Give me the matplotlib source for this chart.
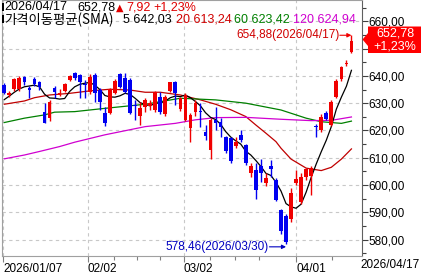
import matplotlib
matplotlib.use('Agg')
import matplotlib.pyplot as plt
from matplotlib.ticker import FixedLocator, FuncFormatter, MultipleLocator
from matplotlib.patches import Polygon, Rectangle
from matplotlib import font_manager as fm

# ---------------- data ----------------
opens = [636.7, 633.0, 635.1, 635.1, 639.5, 635.7, 638.9, 637.7, 626.9, 624.7,
         635.5, 633.0, 634.6, 638.5, 641.0, 640.3, 637.0, 634.0, 640.3, 634.8,
         626.3, 626.3, 633.6, 640.6, 639.4, 638.5, 629.5, 625.3, 628.7, 628.8,
         627.5, 632.4, 625.9, 634.5, 637.9, 627.8, 623.9, 620.8, 626.7, 627.1,
         619.6, 612.9, 623.9, 623.2, 617.5, 617.1, 614.3, 618.4, 614.7, 604.3,
         605.5, 606.8, 600.7, 607.0, 601.9, 590.9, 588.7, 587.5, 600.7, 593.9,
         602.9, 603.3, 621.6, 620.0, 626.3, 622.0, 632.2, 638.8, 644.4, 648.9]
highs = [637.5, 634.5, 639.4, 640.1, 640.1, 636.3, 639.5, 638.3, 630.0, 631.2,
         636.3, 635.1, 637.5, 640.5, 641.6, 640.8, 638.5, 640.6, 640.9, 635.5,
         628.7, 635.7, 638.8, 641.2, 640.9, 639.4, 631.2, 630.6, 631.8, 631.2,
         634.5, 634.0, 633.0, 637.9, 638.3, 632.4, 633.6, 626.3, 631.2, 630.0,
         622.0, 624.5, 628.5, 624.5, 618.0, 617.7, 617.7, 620.2, 615.2, 608.0,
         608.2, 609.5, 604.3, 609.2, 602.5, 591.4, 589.3, 598.8, 605.5, 604.5,
         606.2, 606.8, 622.4, 626.0, 627.0, 631.2, 638.8, 643.7, 645.7, 654.88]
lows = [633.2, 632.4, 634.5, 634.5, 636.6, 631.8, 636.3, 634.8, 622.6, 623.4,
        631.8, 632.6, 634.0, 638.0, 638.5, 631.8, 632.0, 633.4, 630.6, 627.5,
        621.8, 625.9, 633.2, 635.5, 633.6, 625.9, 623.9, 622.0, 626.9, 627.5,
        626.9, 626.0, 625.3, 634.0, 629.4, 627.2, 623.4, 615.9, 625.3, 621.4,
        616.4, 609.5, 620.2, 617.5, 611.8, 608.2, 613.5, 615.9, 607.5, 602.9,
        594.8, 601.0, 599.6, 603.1, 594.0, 582.0, 578.46, 586.6, 600.0, 593.2,
        602.0, 596.4, 617.5, 619.6, 623.9, 621.5, 631.8, 638.2, 643.5, 648.5]
closes = [633.9, 633.9, 638.9, 639.4, 637.9, 635.0, 636.9, 635.8, 622.9, 630.6,
          634.2, 633.9, 637.0, 640.0, 639.1, 637.9, 636.5, 639.7, 633.6, 630.6,
          622.6, 635.1, 638.1, 636.1, 634.2, 626.3, 628.9, 628.1, 631.2, 630.0,
          634.0, 626.9, 632.4, 637.7, 633.6, 631.8, 633.0, 625.7, 630.0, 626.6,
          618.1, 623.8, 622.6, 621.4, 612.3, 608.8, 615.9, 616.5, 608.2, 606.8,
          598.2, 604.3, 602.5, 605.8, 594.6, 583.0, 579.0, 597.2, 602.1, 603.1,
          605.8, 606.2, 621.1, 624.8, 624.1, 630.6, 638.3, 643.2, 644.86, 652.78]

ma5 = [631.3, 632.6, 634.0, 635.2, 636.0, 636.3, 636.6, 636.0, 633.3, 631.9,
       631.8, 631.5, 631.7, 634.3, 636.0, 636.9, 637.3, 637.6, 636.6, 635.0,
       632.8, 632.3, 632.2, 632.7, 633.6, 633.2, 631.8, 630.2, 629.5, 629.0,
       630.0, 630.0, 630.8, 632.0, 632.6, 632.4, 633.0, 632.0, 630.6, 629.0,
       626.5, 624.8, 624.0, 622.3, 619.6, 617.6, 616.2, 615.0, 612.4, 611.0,
       609.0, 606.8, 604.3, 603.5, 601.0, 597.8, 593.2, 592.0, 591.5, 593.0,
       597.4, 602.8, 607.7, 612.2, 616.4, 621.4, 627.8, 632.2, 636.2, 642.03]

ma20_idx = [0, 4, 6, 9, 13, 17, 21, 25, 28, 31, 35, 39, 42, 45, 48, 50, 52, 54, 55, 57, 60, 63, 65, 67, 69]
ma20_val = [629.6, 630.8, 632.0, 633.0, 633.6, 634.5, 635.1, 634.8, 634.0, 634.0, 633.0, 631.2,
            629.6, 627.6, 625.1, 622.0, 619.0, 615.9, 613.5, 609.5, 606.2, 605.3, 606.5, 609.5, 613.24]
ma60_idx = [0, 4, 8, 10, 14, 20, 28, 35, 42, 48, 55, 60, 63, 67, 69]
ma60_val = [622.9, 624.5, 625.7, 626.7, 626.9, 628.1, 629.6, 631.8, 631.2, 630.0, 627.5, 624.5,
            623.2, 622.6, 623.42]
ma120_idx = [0, 4, 7, 11, 14, 20, 28, 34, 38, 42, 48, 55, 61, 65, 69]
ma120_val = [609.6, 611.0, 612.3, 614.1, 615.7, 618.4, 621.4, 622.6, 623.9, 624.7, 624.8, 624.1,
             623.6, 623.7, 624.94]

last_date = "2026/04/17"
low_date = "2026/03/30"
xtick_pos = [-0.26, 16.6, 35.7, 58.0]
xtick_labels = ["2026/01/07", "02/02", "03/02", "04/01"]
xminor_pos = [21.9, 26.4, 30.9, 40.9, 45.8, 50.6, 65.2]
ma_periods = [5, 20, 60, 120]
ma_title = "가격이동평균(SMA)"

# ---------------- style ----------------
avail = {f.name for f in fm.fontManager.ttflist}
NUMF = 'Liberation Sans Narrow' if 'Liberation Sans Narrow' in avail else 'Liberation Sans'
FS = 10 if NUMF == 'Liberation Sans Narrow' else 8.5
FS2 = FS + 0.5
KOR = ['Noto Sans CJK KR', NUMF]

RED = '#F00000'
BLUE = '#0000F0'
C_MA = ['#000000', '#C00000', '#008000', '#D000D0']
C_TXT = ['#000000', '#D00000', '#008000', '#D000D0']

W, H = 421, 275
fig = plt.figure(figsize=(W / 100, H / 100), dpi=100)
fig.patch.set_facecolor('white')


def fx(px):
    return px / W


def fy(py):
    return 1 - py / H


ax = fig.add_axes([2 / W, 19 / H, 360 / W, 256 / H])
ax.set_xlim(-0.45, 71.1)
ax.set_ylim(574.0, 667.8)

# grid
ax.yaxis.set_major_locator(MultipleLocator(10))
ax.yaxis.set_minor_locator(MultipleLocator(5))
ax.xaxis.set_major_locator(FixedLocator(xtick_pos))
ax.xaxis.set_minor_locator(FixedLocator(xminor_pos))
ax.grid(True, which='major', color='#C8C8C8', lw=0.8, ls=(0, (3, 3)))
ax.set_axisbelow(True)

# MA lines
n = len(closes)
ax.plot(range(n), ma5, color=C_MA[0], lw=0.9, zorder=3)
ax.plot(ma20_idx, ma20_val, color=C_MA[1], lw=0.9, zorder=2)
ax.plot(ma60_idx, ma60_val, color=C_MA[2], lw=0.9, zorder=2)
ax.plot(ma120_idx, ma120_val, color=C_MA[3], lw=0.9, zorder=2)

# candles
for i in range(n):
    o, h, l, c = opens[i], highs[i], lows[i], closes[i]
    col = RED if c >= o else BLUE
    ax.vlines(i, l, h, color=col, lw=1.0, zorder=4)
    bot = min(o, c)
    hgt = max(abs(c - o), 0.35)
    ax.bar(i, hgt, bottom=bot, width=0.74, color=col, edgecolor=col, lw=0, zorder=5)

# axes styling
for s in ['left', 'top', 'bottom']:
    ax.spines[s].set_color('#A0A0A0')
ax.spines['right'].set_color('#606060')
ax.yaxis.tick_right()
ax.yaxis.set_major_formatter(FuncFormatter(lambda v, p: ('' if abs(v - 650) < 0.1 else f"{v:.2f}".replace('.', ','))))
ax.tick_params(axis='y', which='major', length=4, width=0.8, color='#404040', pad=0.5,
               labelsize=FS)
ax.tick_params(axis='y', which='minor', length=3, width=0.8, color='#404040')
ax.set_xticklabels(xtick_labels)
ax.tick_params(axis='x', which='major', length=4, width=0.8, color='#808080', pad=1, labelsize=FS)
ax.tick_params(axis='x', which='minor', length=3, width=0.8, color='#808080')
for lab in ax.get_xticklabels():
    lab.set_horizontalalignment('left')
for lab in ax.get_xticklabels() + ax.get_yticklabels():
    lab.set_fontfamily(NUMF)
fig.text(fx(360), fy(265.5), last_date, fontsize=FS, family=NUMF, ha='left', va='center')

# high / low annotations
hi_i = n - 1
hi_v = highs[hi_i]
lo_i = min(range(n), key=lambda k: lows[k])
lo_v = lows[lo_i]
ax.annotate('', xy=(hi_i, hi_v), xytext=(hi_i - 2.3, hi_v),
            arrowprops=dict(arrowstyle='-|>', color=RED, lw=0.8, mutation_scale=6,
                            shrinkA=0, shrinkB=0), zorder=6)
ax.text(hi_i - 2.35, hi_v, f"{hi_v:.2f}".replace('.', ',') + f"({last_date})",
        color='#D00000', fontsize=FS, family=NUMF, ha='right', va='center')
ax.annotate('', xy=(lo_i, lo_v - 1.1), xytext=(lo_i - 3.3, lo_v - 1.1),
            arrowprops=dict(arrowstyle='-|>', color='#0000C0', lw=0.8, mutation_scale=6,
                            shrinkA=0, shrinkB=0), zorder=6)
ax.text(lo_i - 3.35, lo_v - 1.1, f"{lo_v:.2f}".replace('.', ',') + f"({low_date})",
        color='#0000C0', fontsize=FS, family=NUMF, ha='right', va='center')

# price box on right axis
last = closes[-1]
prev = closes[-2]
chg = last - prev
pct = chg / prev * 100
pts_px = [(368, 26.5), (421, 26.5), (421, 53), (368, 53), (368, 46), (362.5, 39.5), (368, 33)]
poly = Polygon([(fx(x), fy(y)) for x, y in pts_px], closed=True, transform=fig.transFigure,
               facecolor='#FF0000', edgecolor='none', zorder=10)
fig.patches.append(poly)
fig.text(fx(395), fy(33.5), f"{last:.2f}".replace('.', ','), color='white', fontsize=FS2,
         family=NUMF, ha='center', va='center', zorder=11)
fig.text(fx(395), fy(46.5), f"+{pct:.2f}%".replace('.', ','), color='white', fontsize=FS2,
         family=NUMF, ha='center', va='center', zorder=11)

# legend rows
for yy in (3.5, 15.5):
    fig.patches.append(Rectangle((fx(1.7), fy(yy + 7)), 2.3 / W, 7 / H, transform=fig.transFigure,
                                 facecolor='black', edgecolor='none', zorder=10))
r1 = 7.5
fig.text(fx(4.7), fy(r1), last_date, fontsize=FS2, family=NUMF, va='center')
fig.text(fx(77), fy(r1), f"{last:.2f}".replace('.', ','), fontsize=FS2, family=NUMF, va='center')
fig.text(fx(116), fy(r1), "\u25b2", fontsize=FS - 1.5, family='DejaVu Sans', color='#E00000',
         va='center')
fig.text(fx(126), fy(r1), f"{chg:.2f}".replace('.', ','), fontsize=FS2,
         family=NUMF, color='#E00000', va='center')
fig.text(fx(153), fy(r1), f"+{pct:.2f}%".replace('.', ','), fontsize=FS2, family=NUMF,
         color='#E00000', va='center')
r2 = 19.5
fig.text(fx(4.7), fy(r2), ma_title, fontsize=9.6, family=KOR, va='center')
ma_last = [ma5[-1], ma20_val[-1], ma60_val[-1], ma120_val[-1]]
xs = [123, 176, 234, 293]
for k in range(4):
    fig.text(fx(xs[k]), fy(r2), f"{ma_periods[k]} " + f"{ma_last[k]:.2f}".replace('.', ','),
             fontsize=FS2, family=NUMF, color=C_TXT[k], va='center')

fig.savefig('out.png', dpi=100, facecolor='white')
